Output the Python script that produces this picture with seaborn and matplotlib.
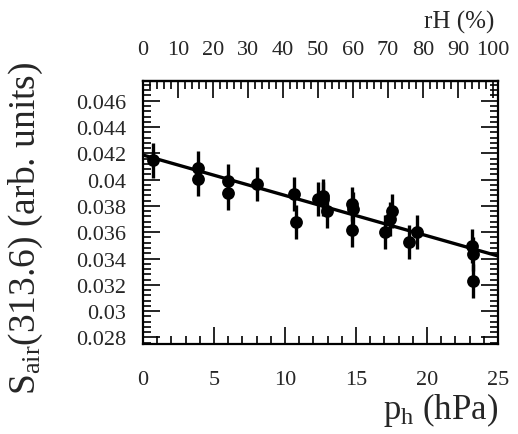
import numpy as np
import pandas as pd
import matplotlib
matplotlib.use("Agg")
import matplotlib.pyplot as plt
from matplotlib.ticker import MultipleLocator, FixedLocator
import seaborn as sns

# ---- data ----
p_h = [0.68, 3.85, 3.9, 6.0, 6.0, 8.0, 10.65, 10.77, 12.35, 12.65, 12.65, 12.94,
       14.7, 14.8, 14.75, 17.04, 17.4, 17.5, 18.75, 19.33, 23.15, 23.26, 23.26]
s_air = [0.04146, 0.04086, 0.04005, 0.03992, 0.03898, 0.03967, 0.03891, 0.03680,
         0.03853, 0.03878, 0.03853, 0.03760, 0.03815, 0.03777, 0.03619, 0.03600,
         0.03700, 0.03764, 0.03523, 0.03600, 0.03498, 0.03434, 0.03231]
s_err = [0.00130] * len(p_h)

fit_intercept = 0.04187   # S at p_h = 0
fit_slope = -0.000307     # per hPa
p_sat = 24.65             # hPa corresponding to rH = 100 %

x_ticks = [0, 5, 10, 15, 20, 25]
y_ticks = [0.028, 0.030, 0.032, 0.034, 0.036, 0.038, 0.040, 0.042, 0.044, 0.046]
y_tick_labels = ["0.028", "0.03", "0.032", "0.034", "0.036", "0.038", "0.04",
                 "0.042", "0.044", "0.046"]
rh_ticks = [0, 10, 20, 30, 40, 50, 60, 70, 80, 90, 100]

df = pd.DataFrame({"p_h": p_h, "S": s_air, "err": s_err})
fit_x = np.array([0.0, 25.0])
fit_df = pd.DataFrame({"p_h": fit_x, "S": fit_intercept + fit_slope * fit_x})

# ---- style ----
sns.set_theme(style="white")
plt.rcParams["font.family"] = ["Liberation Serif", "DejaVu Serif"]
plt.rcParams["mathtext.fontset"] = "custom"
plt.rcParams["mathtext.rm"] = "Liberation Serif"
plt.rcParams["mathtext.it"] = "Liberation Serif:italic"

fig = plt.figure(figsize=(5.18, 4.35), dpi=100)
ax = fig.add_axes([143 / 518, 1 - 345 / 435, 355 / 518, 263 / 435])

ax.errorbar(df["p_h"], df["S"], yerr=df["err"], fmt="none", ecolor="black",
            elinewidth=2.4, capsize=0, zorder=2)
sns.scatterplot(data=df, x="p_h", y="S", ax=ax, color="black", s=85,
                edgecolor="black", linewidth=0, zorder=3, legend=False)
sns.lineplot(data=fit_df, x="p_h", y="S", ax=ax, color="black", linewidth=2.4,
             zorder=4)

ax.set_xlim(0, 25)
ax.set_ylim(0.0275, 0.0475)

ax.xaxis.set_major_locator(FixedLocator(x_ticks))
ax.xaxis.set_minor_locator(MultipleLocator(1))
ax.yaxis.set_major_locator(FixedLocator(y_ticks))
ax.set_yticklabels(y_tick_labels)
ax.yaxis.set_minor_locator(MultipleLocator(0.0004))

for sp in ax.spines.values():
    sp.set_color("black")
    sp.set_linewidth(1.6)

ax.tick_params(which="both", direction="in", color="black", width=1.2,
               bottom=True, left=True, right=True, top=False)
ax.tick_params(which="major", length=12)
ax.tick_params(which="minor", length=6)
ax.tick_params(axis="x", which="major", labelsize=16, pad=19)
ax.tick_params(axis="y", which="major", labelsize=16, pad=12)

ax.set_xlabel(r"p$_{\rm h}$ (hPa)", fontsize=25, loc="right")
ax.xaxis.set_label_coords(1.0, -0.175)
ax.set_ylabel(r"S$_{\rm air}$(313.6) (arb. units)", fontsize=27)
ax.yaxis.set_label_coords(-0.275, 0.445)

secax = ax.secondary_xaxis("top", functions=(lambda p: p / p_sat * 100.0,
                                             lambda r: r * p_sat / 100.0))
secax.xaxis.set_major_locator(FixedLocator(rh_ticks))
secax.xaxis.set_minor_locator(MultipleLocator(2))
secax.tick_params(which="both", direction="in", color="black", width=1.2)
secax.tick_params(which="major", length=12, labelsize=16, pad=16)
secax.tick_params(which="minor", length=6)
secax.spines["top"].set_linewidth(1.6)
ax.text(0.99, 1.205, "rH (%)", transform=ax.transAxes, ha="right",
        va="baseline", fontsize=18)

fig.savefig("out.png", dpi=100, facecolor="white")
